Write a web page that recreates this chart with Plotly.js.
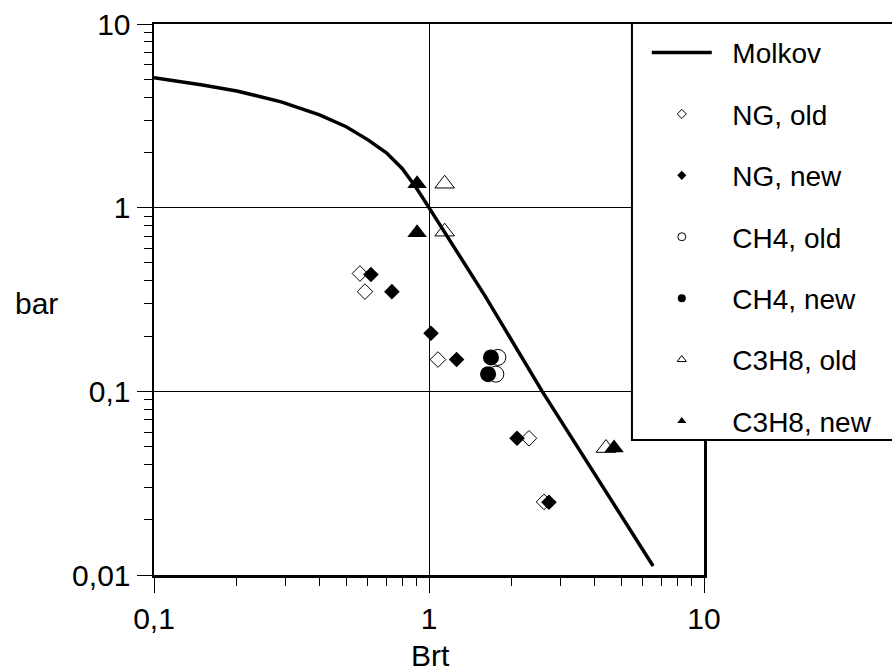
<!DOCTYPE html>
<html>
<head>
<meta charset="utf-8">
<script src="https://cdn.plot.ly/plotly-3.0.1.min.js"></script>
<style>html,body{margin:0;padding:0;background:#fff}#chart{width:892px;height:672px}</style>
</head>
<body>
<div id="chart"></div>
<script>
// ---- data ----
const molkovX = [0.1, 0.15, 0.2, 0.29, 0.4, 0.5, 0.6, 0.7, 0.8, 0.9, 1.0, 1.6, 2.58, 6.53];
const molkovY = [5.1, 4.66, 4.32, 3.77, 3.2, 2.76, 2.34, 1.99, 1.63, 1.28, 1.0, 0.33, 0.1, 0.0112];

const ngOldX = [0.561, 0.585, 1.078, 2.31, 2.62];
const ngOldY = [0.438, 0.349, 0.149, 0.0555, 0.025];
const ngNewX = [0.615, 0.733, 1.017, 1.26, 2.09, 2.73];
const ngNewY = [0.433, 0.349, 0.207, 0.149, 0.0555, 0.0249];

const ch4OldX = [1.78, 1.75];
const ch4OldY = [0.153, 0.124];
const ch4NewX = [1.68, 1.64];
const ch4NewY = [0.153, 0.124];

const c3h8OldX = [1.14, 1.14, 4.40];
const c3h8OldY = [1.35, 0.74, 0.0491];
const c3h8NewX = [0.905, 0.905, 4.71];
const c3h8NewY = [1.35, 0.731, 0.0491];

const seriesNames = ["Molkov", "NG, old", "NG, new", "CH4, old", "CH4, new", "C3H8, old", "C3H8, new"];

const xTickVals = [0.1, 1, 10];
const xTickText = ["0,1", "1", "10"];
const yTickVals = [0.01, 0.1, 1, 10];
const yTickText = ["0,01", "0,1", "1", "10"];

const xTitle = "Brt";
const yTitle = "bar";

// ---- styles ----
const FONT = "Liberation Sans, Arial, Helvetica, sans-serif";
const pad = "\u00a0\u00a0";
const openM = (sym, size) => ({symbol: sym, size: size, color: "white", line: {color: "black", width: 1}});
const fillM = (sym, size) => ({symbol: sym, size: size, color: "black", line: {color: "black", width: 0}});

const specs = [
  {x: ngOldX, y: ngOldY, m: s => openM("diamond", s), big: 12, small: 7},
  {x: ngNewX, y: ngNewY, m: s => fillM("diamond", s), big: 12, small: 7},
  {x: ch4OldX, y: ch4OldY, m: s => openM("circle", s), big: 16, small: 8},
  {x: ch4NewX, y: ch4NewY, m: s => fillM("circle", s), big: 16, small: 8},
  {x: c3h8OldX, y: c3h8OldY, m: s => openM("triangle-up", s), big: 17, small: 8},
  {x: c3h8NewX, y: c3h8NewY, m: s => fillM("triangle-up", s), big: 17, small: 8}
];

const traces = [];
// data traces
specs.forEach((s, i) => {
  traces.push({type: "scatter", mode: "markers", x: s.x, y: s.y, marker: s.m(s.big),
               showlegend: false, hoverinfo: "skip", cliponaxis: false});
});
traces.push({type: "scatter", mode: "lines", x: molkovX, y: molkovY,
             line: {color: "black", width: 3.5}, showlegend: false, hoverinfo: "skip"});
// legend entries
traces.push({type: "scatter", mode: "lines", x: [null], y: [null], name: pad + seriesNames[0],
             line: {color: "black", width: 3.5}, legendgroup: "g0", showlegend: true});
specs.forEach((s, i) => {
  traces.push({type: "scatter", mode: "markers", x: [null], y: [null], name: pad + seriesNames[i + 1],
               marker: s.m(s.small), legendgroup: "g" + (i + 1), showlegend: true});
});

const axisCommon = {
  type: "log",
  showline: true, linecolor: "black", linewidth: 2.5, mirror: true,
  showgrid: true, gridcolor: "black", gridwidth: 1,
  zeroline: false,
  ticks: "outside", ticklen: 15, tickwidth: 1, tickcolor: "black",
  tickfont: {family: FONT, size: 30, color: "black"},
  minor: {ticks: "outside", ticklen: 8, tickwidth: 1, tickcolor: "black", dtick: "D1", showgrid: false},
  tickmode: "array",
  ticklabelstandoff: 0
};

const layout = {
  width: 892, height: 672,
  margin: {l: 154, r: 188, t: 24, b: 97, autoexpand: false},
  paper_bgcolor: "white", plot_bgcolor: "white",
  font: {family: FONT, color: "black"},
  xaxis: Object.assign({}, axisCommon, {
    range: [-1, 1], tickvals: xTickVals, ticktext: xTickText
  }),
  yaxis: Object.assign({}, axisCommon, {
    range: [-2, 1], tickvals: yTickVals, ticktext: yTickText
  }),
  showlegend: true,
  legend: {
    x: 0.896, xanchor: "left", y: 0.993, yanchor: "top",
    bgcolor: "rgba(0,0,0,0)", borderwidth: 0,
    font: {family: FONT, size: 28, color: "black"},
    itemwidth: 60, tracegroupgap: 22, traceorder: "grouped", itemclick: false, itemdoubleclick: false
  },
  shapes: [{
    type: "rect", xref: "paper", yref: "paper", x0: 0.869, x1: 1.45, y0: 0.245, y1: 1.0018,
    line: {color: "black", width: 2}, fillcolor: "white", layer: "above"
  }],
  annotations: [
    {text: yTitle, xref: "paper", yref: "paper", x: -0.2145, y: 0.4936, xanchor: "center", yanchor: "middle",
     showarrow: false, font: {family: FONT, size: 30, color: "black"}},
    {text: xTitle, xref: "paper", yref: "paper", x: 0.502, y: -0.147, xanchor: "center", yanchor: "middle",
     showarrow: false, font: {family: FONT, size: 30, color: "black"}}
  ]
};

Plotly.newPlot("chart", traces, layout, {staticPlot: true, displayModeBar: false});
</script>
</body>
</html>
